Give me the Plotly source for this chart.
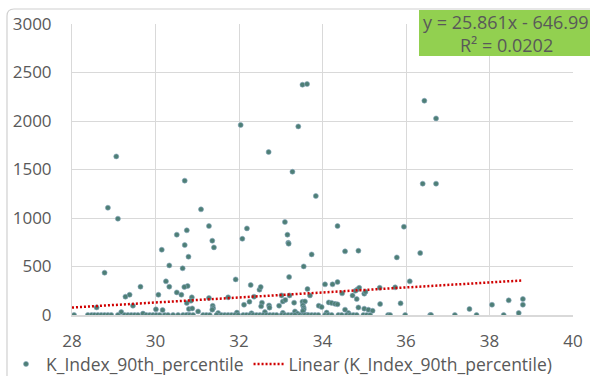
import plotly.graph_objects as go

# K_Index_90th_percentile observations (x, y)
x_vals = [
    # upper scatter
    29.06, 32.04, 32.71, 33.42, 33.28, 33.52, 33.63, 36.44, 36.72, 30.70,
    28.86, 29.10, 28.78, 31.09, 31.28, 31.36, 31.40, 30.51, 30.15, 30.33,
    30.65, 30.70, 30.75, 30.79, 31.92, 32.08, 32.19, 33.10, 33.16, 33.18,
    33.19, 33.20, 33.84, 34.36, 34.54, 34.86, 33.74, 33.55, 35.95, 35.78,
    36.34, 36.40, 36.72, 36.09,
    # mid band
    30.25, 30.33, 30.51, 30.62, 30.07, 30.77, 30.69, 30.87, 30.85, 30.75,
    29.28, 29.38, 29.46, 29.64, 28.59, 30.01, 30.17, 30.80, 30.88, 31.02,
    31.28, 31.37, 31.38, 31.36, 31.74, 32.28, 32.49, 32.52, 32.36, 32.25,
    32.12, 32.55, 32.53, 32.72, 32.73, 33.02, 33.21, 33.05, 33.11, 32.96,
    33.32, 33.34,
    34.06, 34.24, 34.36, 33.64, 33.70, 34.47, 34.79, 34.84, 34.88, 34.72,
    34.82, 35.00, 35.03, 35.37, 35.74, 35.38, 35.87, 33.52, 33.58, 33.53,
    33.55, 33.55, 33.53, 33.91, 33.98, 34.15, 34.22, 34.30, 34.36, 34.54,
    34.86, 35.00, 35.10, 35.20, 37.52, 38.06, 38.46, 38.80, 38.80, 38.70,
    # near-zero readings
    29.18, 29.70, 31.50, 31.95, 32.30, 32.62, 33.05, 33.40, 34.10, 34.62,
    # zero row
    28.05, 28.38, 28.47, 28.54, 28.62, 28.70, 28.78, 28.86, 28.94, 29.10,
    29.26, 29.34, 29.42, 29.50, 29.58, 29.78, 29.86, 29.94, 30.02, 30.10,
    30.22, 30.30, 30.42, 30.54, 30.66, 30.78,
    30.74, 30.82, 30.90, 31.14, 31.22, 31.30, 31.46, 31.58, 31.66, 31.74,
    31.82, 31.90, 31.98, 32.10, 32.18, 32.26, 32.34, 32.42, 32.50, 32.58,
    32.66, 32.74, 32.82, 32.90, 33.02, 33.10, 33.18, 33.26, 33.34, 33.46,
    33.54, 33.62,
    33.58, 33.66, 33.74, 33.82, 33.90, 34.06, 34.14, 34.22, 34.38, 34.46,
    34.58, 34.66, 34.74, 34.82, 34.98, 35.06, 35.14, 35.57, 35.62, 35.98,
    36.58, 36.60, 37.17, 37.69, 38.34,
]
y_vals = [
    1635, 1959, 1680, 1944, 1477, 2374, 2381, 2209, 2027, 1385,
    1106, 993, 436, 1089, 917, 766, 697, 828, 673, 511,
    481, 721, 873, 601, 367, 786, 893, 959, 828, 745,
    735, 392, 1227, 917, 656, 663, 625, 501, 910, 594,
    639, 1354, 1354, 347,
    347, 292, 233, 209, 209, 299, 289, 182, 147, 124,
    189, 209, 96, 292, 78, 58, 51, 62, 68, 37,
    175, 95, 70, 55, 182, 309, 261, 289, 189, 137,
    106, 127, 89, 99, 76, 202, 202, 140, 155, 96,
    127, 37,
    316, 316, 340, 268, 202, 223, 250, 265, 280, 202,
    165, 220, 240, 281, 285, 113, 120, 137, 140, 100,
    76, 57, 40, 96, 82, 130, 125, 115, 110, 55,
    78, 65, 55, 44, 62, 106, 151, 165, 106, 21,
    30, 15, 20, 25, 18, 30, 22, 15, 25, 20,
    0, 0, 0, 0, 0, 0, 0, 0, 0, 0,
    0, 0, 0, 0, 0, 0, 0, 0, 0, 0,
    0, 0, 0, 0, 0, 0,
    0, 0, 0, 0, 0, 0, 0, 0, 0, 0,
    0, 0, 0, 0, 0, 0, 0, 0, 0, 0,
    0, 0, 0, 0, 0, 0, 0, 0, 0, 0,
    0, 0,
    0, 0, 0, 0, 0, 0, 0, 0, 0, 0,
    0, 0, 0, 0, 0, 0, 0, 0, 0, 0,
    0, 0, 0, 0, 0,
]

# Linear trend coefficients as reported in the equation label
slope = 25.861
intercept = -646.99
r_squared = 0.0202

x_ticks = [28, 30, 32, 34, 36, 38, 40]
y_ticks = [0, 500, 1000, 1500, 2000, 2500, 3000]

series_name = "K_Index_90th_percentile"
trend_name = "Linear (K_Index_90th_percentile)"

FONT = "'Open Sans', sans-serif"
TXT = "#595959"
GRID = "#D9D9D9"

x_lo, x_hi = 28.0, max(x_vals)
trend_x = [x_lo, x_hi]
trend_y = [slope * v + intercept for v in trend_x]

fig = go.Figure()
fig.add_trace(go.Scatter(
    x=x_vals, y=y_vals, mode="markers", name=series_name,
    marker=dict(size=5, color="#4E7F76",
                line=dict(width=0.6, color="#86A6BC")),
))
fig.add_trace(go.Scatter(
    x=trend_x, y=trend_y, mode="lines", name=trend_name,
    line=dict(color="#D00000", width=2.5, dash="2px,2px"),
))

# plot area in pixels: left 72, right 573, top 24, bottom 315
L, R, T, B = 72, 573, 24, 315
W, H = 590, 376


def px_x(p):
    return (p - L) / (R - L)


def px_y(p):
    return (B - p) / (B - T)


shapes = [
    # chart-area outline with rounded top-left corner
    dict(type="path", xref="paper", yref="paper",
         path=(f"M {px_x(7)},{px_y(400)} L {px_x(7)},{px_y(16)} "
               f"Q {px_x(7)},{px_y(9)} {px_x(14)},{px_y(9)} "
               f"L {px_x(620)},{px_y(9)}"),
         line=dict(color="#D0D0D0", width=1.2), layer="below"),
    # green box behind the trend equation
    dict(type="rect", xref="paper", yref="paper",
         x0=px_x(419), x1=px_x(600), y0=px_y(56), y1=px_y(10),
         fillcolor="#92D050", line=dict(width=0), layer="above"),
]

annotations = [
    dict(xref="paper", yref="paper", x=px_x(421), y=px_y(22),
         xanchor="left", yanchor="middle", showarrow=False,
         text=f"y = {slope}x - {abs(intercept)}",
         font=dict(family=FONT, size=18, color=TXT)),
    dict(xref="paper", yref="paper", x=px_x(506), y=px_y(45),
         xanchor="center", yanchor="middle", showarrow=False,
         text=f"R² = {r_squared}",
         font=dict(family=FONT, size=18, color=TXT)),
]

fig.update_layout(
    width=W, height=H,
    margin=dict(l=L, r=W - R, t=T, b=H - B, autoexpand=False),
    paper_bgcolor="white", plot_bgcolor="white",
    font=dict(family=FONT, size=17, color=TXT),
    showlegend=True,
    # anchored left of the plot area so the row may span the left margin
    legend=dict(orientation="h", x=px_x(6), xanchor="left",
                y=px_y(364), yanchor="middle",
                font=dict(family=FONT, size=17.5, color=TXT),
                itemwidth=30, tracegroupgap=0, bgcolor="rgba(0,0,0,0)"),
    xaxis=dict(range=[28, 40], tickvals=x_ticks, showgrid=True,
               gridcolor=GRID, gridwidth=1, showline=True,
               linecolor=GRID, linewidth=1.5, zeroline=False,
               ticks="", ticklabelstandoff=10,
               tickfont=dict(family=FONT, size=17, color=TXT)),
    yaxis=dict(range=[0, 3000], tickvals=y_ticks, showgrid=True,
               gridcolor=GRID, gridwidth=1, showline=True,
               linecolor=GRID, linewidth=1, zeroline=False,
               ticks="", ticklabelstandoff=16,
               tickfont=dict(family=FONT, size=17, color=TXT)),
    shapes=shapes, annotations=annotations,
)

fig.write_html("out.html")
